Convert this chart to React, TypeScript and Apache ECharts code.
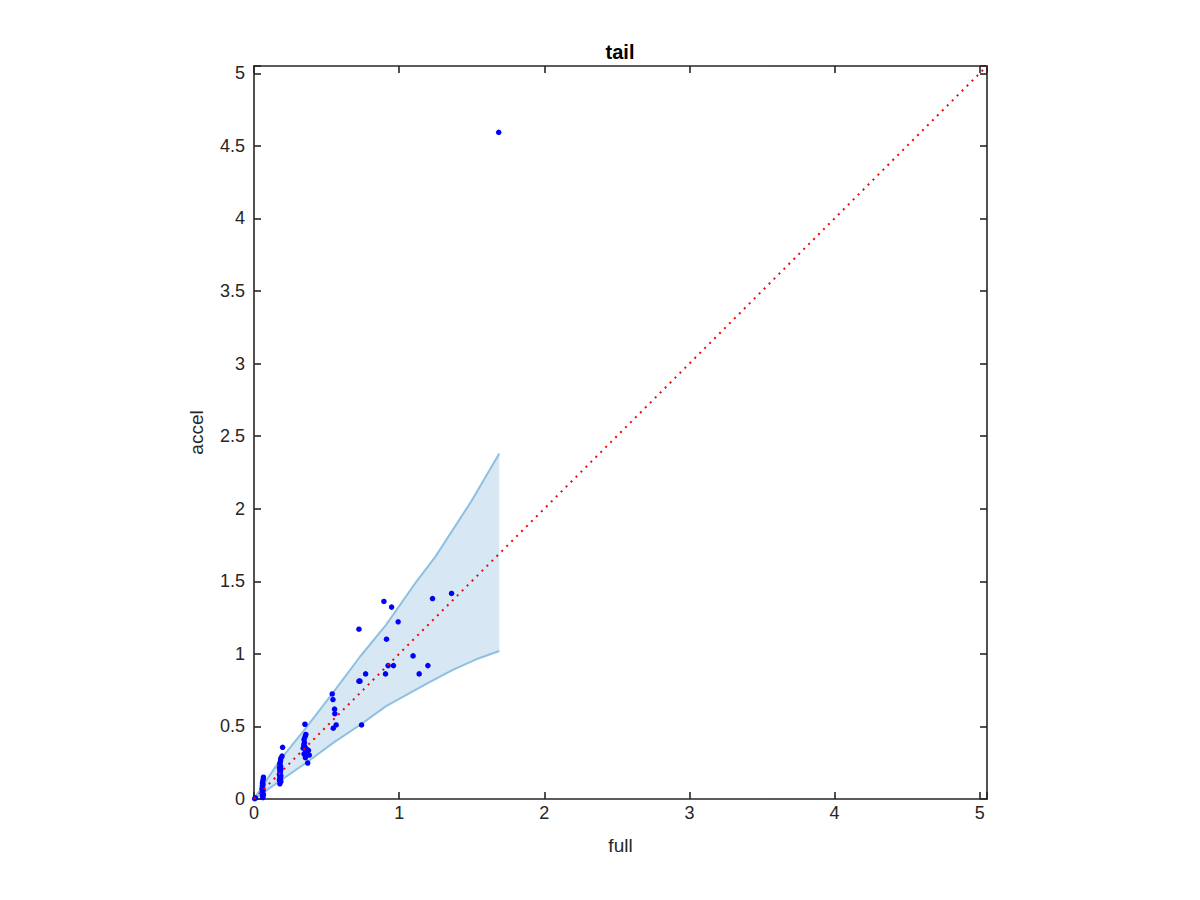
import React, { useEffect, useRef } from "react";
import * as echarts from "echarts";

// Axis limits (both axes) and ticks
const AXIS_MAX = 5.05;
const X_TICK_STEP = 1;
const Y_TICK_STEP = 0.5;

// Scatter: full (x) vs accel (y)
const fullVals = [
  1.686, 0.895, 0.948, 1.230, 1.361, 0.723, 0.993, 0.913, 1.096, 0.924, 0.961, 1.198,
  0.906, 0.769, 1.138, 0.723, 0.730, 0.539, 0.544, 0.555, 0.557, 0.566, 0.546, 0.741,
  0.351, 0.357, 0.352, 0.345, 0.347, 0.343, 0.350, 0.339, 0.360, 0.375, 0.357, 0.345, 0.365, 0.354, 0.381, 0.370,
  0.197, 0.193, 0.185, 0.183, 0.180, 0.178, 0.183, 0.175, 0.185, 0.178, 0.182, 0.175, 0.185, 0.178, 0.183, 0.175, 0.185, 0.178,
  0.065, 0.063, 0.060, 0.058, 0.062, 0.057, 0.060, 0.055, 0.062, 0.058, 0.060, 0.065, 0.058, 0.062, 0.005, 0.010,
];
const accelVals = [
  4.593, 1.361, 1.322, 1.381, 1.416, 1.170, 1.221, 1.101, 0.986, 0.919, 0.919, 0.919,
  0.862, 0.862, 0.862, 0.812, 0.812, 0.724, 0.685, 0.619, 0.588, 0.510, 0.488, 0.510,
  0.515, 0.445, 0.430, 0.410, 0.390, 0.372, 0.360, 0.350, 0.345, 0.335, 0.326, 0.310, 0.305, 0.285, 0.303, 0.248,
  0.356, 0.296, 0.280, 0.265, 0.250, 0.240, 0.225, 0.215, 0.205, 0.195, 0.185, 0.170, 0.160, 0.150, 0.140, 0.130, 0.120, 0.105,
  0.150, 0.135, 0.120, 0.110, 0.100, 0.090, 0.080, 0.070, 0.060, 0.050, 0.040, 0.030, 0.020, 0.010, 0.002, 0.008,
];

// Band edges
const upperX = [0, 0.18, 0.35, 0.55, 0.73, 0.91, 1.12, 1.25, 1.49, 1.69];
const upperY = [0, 0.27, 0.48, 0.74, 0.98, 1.20, 1.50, 1.67, 2.04, 2.38];
const lowerX = [0, 0.36, 0.55, 0.73, 0.91, 1.20, 1.37, 1.55, 1.69];
const lowerY = [0, 0.25, 0.39, 0.51, 0.64, 0.80, 0.89, 0.97, 1.02];

// Identity reference line
const refLineX = [0, AXIS_MAX];

const FONT = "'Liberation Sans', Arial, Helvetica, sans-serif";
const AXIS_COLOR = "#262626";

export default function App() {
  const ref = useRef<HTMLDivElement>(null);
  useEffect(() => {
    if (!ref.current) return;
    const chart = echarts.init(ref.current, undefined, { renderer: "svg" });
    const upper = upperX.map((x, i) => [x, upperY[i]]);
    const lower = lowerX.map((x, i) => [x, lowerY[i]]);
    const scatter = fullVals.map((x, i) => [x, accelVals[i]]);
    const refLine = refLineX.map((x) => [x, x]);

    const isMult = (v: number, s: number) => Math.abs(v / s - Math.round(v / s)) < 1e-6;
    const lineStyle = { color: AXIS_COLOR, width: 1.6 };
    const tick = { show: true, inside: true, length: 7, lineStyle };
    const common = { type: "value", min: 0, max: AXIS_MAX, splitLine: { show: false } };

    chart.setOption({
      animation: false,
      backgroundColor: "#ffffff",
      grid: { left: 254, top: 66, width: 733, height: 733, containLabel: false },
      graphic: [
        {
          type: "text",
          x: 620,
          y: 52,
          style: {
            text: "tail",
            font: `bold 20px ${FONT}`,
            fill: "#000",
            textAlign: "center",
            textVerticalAlign: "middle",
          },
        },
      ],
      xAxis: [
        {
          ...common,
          interval: X_TICK_STEP,
          position: "bottom",
          axisLine: { show: true, onZero: false, lineStyle },
          axisTick: tick,
          axisLabel: {
            color: AXIS_COLOR,
            fontSize: 18,
            fontFamily: FONT,
            margin: 5,
            formatter: (v: number) => (isMult(v, X_TICK_STEP) ? String(v) : ""),
          },
          name: "full",
          nameLocation: "middle",
          nameGap: 37,
          nameTextStyle: { color: AXIS_COLOR, fontSize: 19, fontFamily: FONT },
        },
        {
          ...common,
          interval: X_TICK_STEP,
          position: "top",
          axisLine: { show: true, onZero: false, lineStyle },
          axisTick: tick,
          axisLabel: { show: false },
        },
      ],
      yAxis: [
        {
          ...common,
          interval: Y_TICK_STEP,
          position: "left",
          axisLine: { show: true, onZero: false, lineStyle },
          axisTick: tick,
          axisLabel: {
            color: AXIS_COLOR,
            fontSize: 18,
            fontFamily: FONT,
            margin: 9,
            formatter: (v: number) => (isMult(v, Y_TICK_STEP) ? String(v) : ""),
          },
          name: "accel",
          nameLocation: "middle",
          nameGap: 48,
          nameRotate: 90,
          nameTextStyle: { color: AXIS_COLOR, fontSize: 19, fontFamily: FONT },
        },
        {
          ...common,
          interval: Y_TICK_STEP,
          position: "right",
          axisLine: { show: true, onZero: false, lineStyle },
          axisTick: tick,
          axisLabel: { show: false },
        },
      ],
      series: [
        {
          type: "custom",
          xAxisIndex: 0,
          yAxisIndex: 0,
          z: 1,
          data: [[0, 0]],
          renderItem: (_params: any, api: any) => {
            const pts = [
              ...upper.map((p) => api.coord(p)),
              ...lower.slice().reverse().map((p) => api.coord(p)),
            ];
            return {
              type: "polygon",
              shape: { points: pts },
              style: { fill: "#d7e7f3", stroke: "none" },
            };
          },
        },
        {
          type: "line",
          data: upper,
          showSymbol: false,
          z: 2,
          lineStyle: { color: "#8ec0e2", width: 2 },
        },
        {
          type: "line",
          data: lower,
          showSymbol: false,
          z: 2,
          lineStyle: { color: "#8ec0e2", width: 2 },
        },
        {
          type: "scatter",
          data: scatter,
          symbol: "circle",
          symbolSize: 5.5,
          z: 3,
          itemStyle: { color: "#0000ff", opacity: 1 },
        },
        {
          type: "line",
          data: refLine,
          showSymbol: false,
          z: 4,
          lineStyle: { color: "#ff0000", width: 2, type: [2, 5] },
        },
      ],
    });
    return () => chart.dispose();
  }, []);
  return (
    <div
      ref={ref}
      style={{ position: "fixed", left: 0, top: 0, width: 1200, height: 900, background: "#fff" }}
    />
  );
}
